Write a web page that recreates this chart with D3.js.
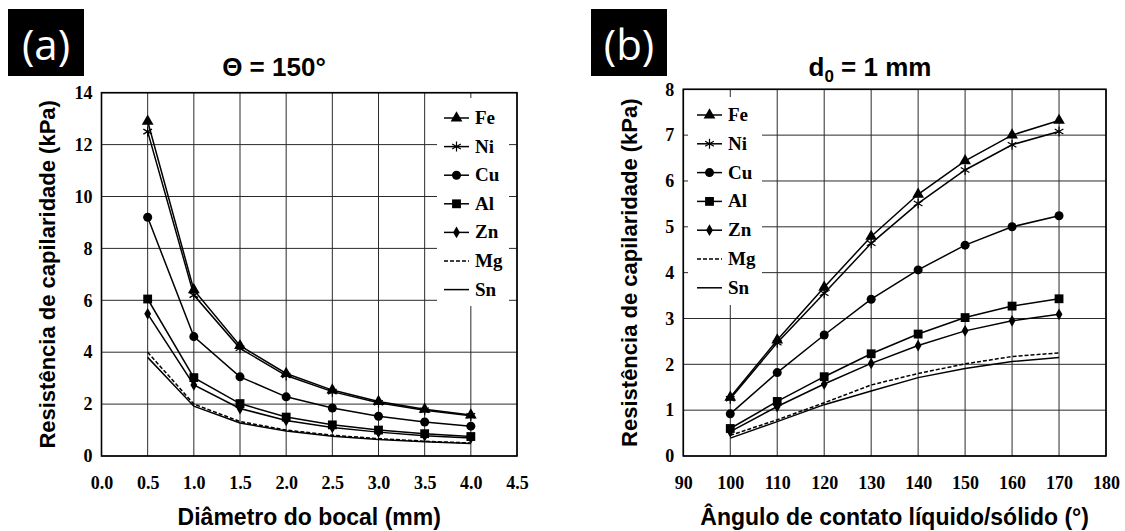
<!DOCTYPE html>
<html>
<head>
<meta charset="utf-8">
<script src="https://cdn.jsdelivr.net/npm/d3@7"></script>
<style>
  body { margin: 0; background: #fff; }
  svg { display: block; }
</style>
</head>
<body>
<svg id="chart"></svg>
<script>
const d3 = window.d3

// panel (a): resistance vs nozzle diameter, contact angle 150 deg
const diameters = [0.5, 1.0, 1.5, 2.0, 2.5, 3.0, 3.5, 4.0]
const feByDiameter = [12.9, 6.4, 4.25, 3.18, 2.54, 2.1, 1.8, 1.58]
const niByDiameter = [12.5, 6.2, 4.15, 3.1, 2.48, 2.05, 1.76, 1.55]
const cuByDiameter = [9.2, 4.6, 3.05, 2.28, 1.85, 1.53, 1.31, 1.15]
const alByDiameter = [6.05, 3.02, 2.02, 1.5, 1.2, 1.0, 0.86, 0.75]
const znByDiameter = [5.48, 2.74, 1.83, 1.37, 1.1, 0.92, 0.78, 0.69]
const mgByDiameter = [4.0, 2.0, 1.33, 1.0, 0.8, 0.67, 0.57, 0.5]
const snByDiameter = [3.8, 1.92, 1.27, 0.96, 0.76, 0.64, 0.55, 0.48]

// panel (b): resistance vs contact angle, d0 = 1 mm
const angles = [100, 110, 120, 130, 140, 150, 160, 170]
const feByAngle = [1.28, 2.53, 3.68, 4.79, 5.71, 6.44, 7.0, 7.32]
const niByAngle = [1.25, 2.47, 3.55, 4.64, 5.51, 6.24, 6.79, 7.08]
const cuByAngle = [0.92, 1.82, 2.64, 3.42, 4.06, 4.6, 5.0, 5.24]
const alByAngle = [0.6, 1.19, 1.73, 2.23, 2.66, 3.02, 3.27, 3.43]
const znByAngle = [0.53, 1.08, 1.57, 2.02, 2.41, 2.73, 2.95, 3.09]
const mgByAngle = [0.45, 0.79, 1.16, 1.55, 1.8, 2.01, 2.17, 2.25]
const snByAngle = [0.39, 0.75, 1.12, 1.42, 1.71, 1.91, 2.06, 2.15]

const metals = ['Fe', 'Ni', 'Cu', 'Al', 'Zn', 'Mg', 'Sn']
const diameterTicks = [0, 0.5, 1, 1.5, 2, 2.5, 3, 3.5, 4, 4.5]
const angleTicks = [90, 100, 110, 120, 130, 140, 150, 160, 170, 180]
const kpaTicksA = [0, 2, 4, 6, 8, 10, 12, 14]
const kpaTicksB = [0, 1, 2, 3, 4, 5, 6, 7, 8]

const yLabel = 'Resistência de capilaridade (kPa)'

const W = 1125
const H = 531
const svg = d3.select('#chart').attr('width', W).attr('height', H)

const serif = '"Liberation Serif", "Times New Roman", serif'
const sans = '"Liberation Sans", Arial, sans-serif'

// marker per metal, null = plain line
const markers = {
  Fe: {type: d3.symbolTriangle, size: 60, stroke: false},
  Ni: {type: d3.symbolAsterisk, size: 70, stroke: true},
  Cu: {type: d3.symbolCircle, size: 64, stroke: false},
  Al: {type: d3.symbolSquare, size: 78, stroke: false},
  Zn: {type: d3.symbolDiamond, size: 40, stroke: false},
  Mg: null,
  Sn: null
}

function drawMarker (g, metal, x, y) {
  const m = markers[metal]
  if (!m) return
  g.append('path')
    .attr('d', d3.symbol(m.type, m.size)())
    .attr('transform', `translate(${x},${y})`)
    .attr('fill', m.stroke ? 'none' : '#000')
    .attr('stroke', m.stroke ? '#000' : 'none')
    .attr('stroke-width', 1.2)
}

function panel (opts) {
  const x = d3.scaleLinear().domain(opts.xDomain).range([opts.left, opts.right])
  const y = d3.scaleLinear().domain(opts.yDomain).range([opts.bottom, opts.top])
  const g = svg.append('g')

  // grid
  g.append('g').selectAll('line').data(opts.xTicks).join('line')
    .attr('x1', d => x(d)).attr('x2', d => x(d))
    .attr('y1', opts.top).attr('y2', opts.bottom)
    .attr('stroke', '#2a2a2a').attr('stroke-width', 1)
  g.append('g').selectAll('line').data(opts.yTicks).join('line')
    .attr('x1', opts.left).attr('x2', opts.right)
    .attr('y1', d => y(d)).attr('y2', d => y(d))
    .attr('stroke', '#2a2a2a').attr('stroke-width', 1)

  // legend background hides the grid
  const lg = opts.legend
  g.append('rect')
    .attr('x', lg.boxX).attr('y', lg.boxY)
    .attr('width', lg.boxW).attr('height', lg.boxH)
    .attr('fill', '#fff')

  // frame
  g.append('rect')
    .attr('x', opts.left).attr('y', opts.top)
    .attr('width', opts.right - opts.left).attr('height', opts.bottom - opts.top)
    .attr('fill', 'none').attr('stroke', '#000').attr('stroke-width', 1.6)

  // tick labels via d3 axes
  const xAxis = g.append('g')
    .attr('transform', `translate(0,${opts.bottom + 17})`)
    .call(d3.axisBottom(x).tickValues(opts.xTicks).tickSize(0).tickFormat(opts.xFormat))
  const yAxis = g.append('g')
    .attr('transform', `translate(${opts.left - 6},0)`)
    .call(d3.axisLeft(y).tickValues(opts.yTicks).tickSize(0).tickFormat(d3.format('d')))
  ;[xAxis, yAxis].forEach(a => {
    a.attr('font-family', null).attr('font-size', null)
    a.select('.domain').remove()
    a.selectAll('text')
      .style('font-family', serif).style('font-weight', 'bold')
      .style('font-size', '18px').attr('fill', '#000')
  })

  // series
  const line = d3.line().x(d => x(d[0])).y(d => y(d[1]))
  opts.series.forEach((vals, i) => {
    const metal = metals[i]
    const pts = opts.xs.map((v, j) => [v, vals[j]])
    g.append('path')
      .attr('d', line(pts))
      .attr('fill', 'none').attr('stroke', '#000')
      .attr('stroke-width', 1.5)
      .attr('stroke-dasharray', metal === 'Mg' ? '4,2' : null)
    pts.forEach(p => drawMarker(g, metal, x(p[0]), y(p[1])))
  })

  // legend
  metals.forEach((metal, i) => {
    const ly = lg.y0 + i * lg.step
    g.append('line')
      .attr('x1', lg.x).attr('x2', lg.x + 25)
      .attr('y1', ly).attr('y2', ly)
      .attr('stroke', '#000').attr('stroke-width', 1.5)
      .attr('stroke-dasharray', metal === 'Mg' ? '4,2' : null)
    drawMarker(g, metal, lg.x + 12.5, ly)
    g.append('text')
      .attr('x', lg.x + 31).attr('y', ly + 6)
      .style('font-family', serif).style('font-weight', 'bold')
      .style('font-size', '19px')
      .text(metal)
  })

  // y title
  g.append('text')
    .attr('transform', `translate(${opts.yTitleX},${(opts.top + opts.bottom) / 2}) rotate(-90)`)
    .attr('text-anchor', 'middle')
    .style('font-family', sans).style('font-weight', 'bold').style('font-size', '22px')
    .text(yLabel)

  // x title
  g.append('text')
    .attr('x', (opts.left + opts.right) / 2).attr('y', 525)
    .attr('text-anchor', 'middle')
    .style('font-family', sans).style('font-weight', 'bold').style('font-size', '23px')
    .text(opts.xTitle)

  // panel letter
  g.append('rect')
    .attr('x', opts.tagX).attr('y', 9).attr('width', 76).attr('height', 67)
    .attr('fill', '#000')
  g.append('text')
    .attr('x', opts.tagX + 38).attr('y', 60)
    .attr('text-anchor', 'middle')
    .style('font-family', '"Open Sans", "Noto Sans", sans-serif')
    .style('font-size', '42px').attr('fill', '#fff')
    .text(opts.tag)

  return g
}

const gA = panel({
  left: 101.5, right: 517, top: 92.7, bottom: 456,
  xDomain: [0, 4.5], yDomain: [0, 14],
  xTicks: diameterTicks, yTicks: kpaTicksA,
  xFormat: d3.format('.1f'),
  xs: diameters,
  series: [feByDiameter, niByDiameter, cuByDiameter, alByDiameter, znByDiameter, mgByDiameter, snByDiameter],
  legend: {x: 444, y0: 118, step: 28.6, boxX: 437, boxY: 98, boxW: 72, boxH: 208},
  yTitleX: 55,
  xTitle: 'Diâmetro do bocal (mm)',
  tag: '(a)', tagX: 8
})
gA.append('text')
  .attr('x', 274).attr('y', 76)
  .attr('text-anchor', 'middle')
  .style('font-family', sans).style('font-weight', 'bold').style('font-size', '26px')
  .text('Θ = 150°')

const gB = panel({
  left: 683.3, right: 1106, top: 89.3, bottom: 456,
  xDomain: [90, 180], yDomain: [0, 8],
  xTicks: angleTicks, yTicks: kpaTicksB,
  xFormat: d3.format('d'),
  xs: angles,
  series: [feByAngle, niByAngle, cuByAngle, alByAngle, znByAngle, mgByAngle, snByAngle],
  legend: {x: 697, y0: 115, step: 28.8, boxX: 688, boxY: 97, boxW: 74, boxH: 208},
  yTitleX: 637,
  xTitle: 'Ângulo de contato líquido/sólido (°)',
  tag: '(b)', tagX: 591
})
const titleB = gB.append('text')
  .attr('x', 870).attr('y', 76)
  .attr('text-anchor', 'middle')
  .style('font-family', sans).style('font-weight', 'bold').style('font-size', '26px')
titleB.append('tspan').text('d')
titleB.append('tspan').style('font-size', '17px').attr('dy', 6).text('0')
titleB.append('tspan').attr('dy', -6).text(' = 1 mm')
</script>
</body>
</html>
